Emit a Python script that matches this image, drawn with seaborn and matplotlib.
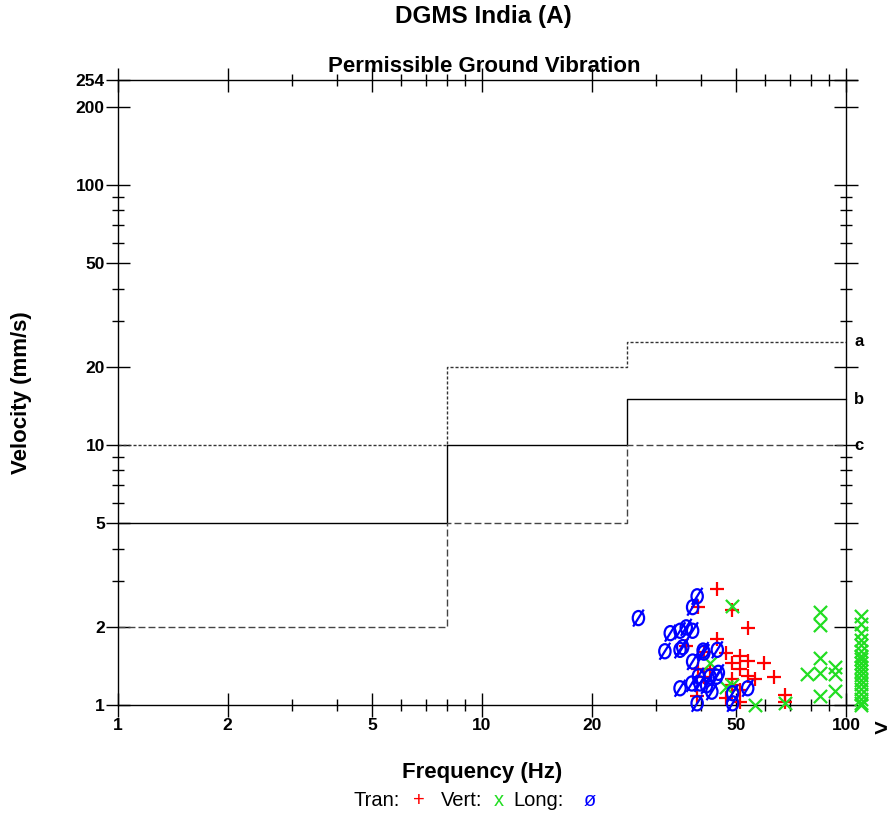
import numpy as np
import pandas as pd
import matplotlib
matplotlib.use("Agg")
import matplotlib.pyplot as plt
import matplotlib.ticker as mticker
from matplotlib.path import Path
import seaborn as sns

# ---------------- data ----------------
limit_freq = [1, 8, 8, 25, 25, 100]
limit_a = [10, 10, 20, 20, 25, 25]
limit_b = [5, 5, 10, 10, 15, 15]
limit_c = [2, 2, 5, 5, 10, 10]
limit_labels = ["a", "b", "c"]

tran_freq = [44.3, 39.3, 48.6, 53.7, 44.1, 36.4, 46.9, 51.0, 53.7, 59.5, 48.6, 51.0,
             53.7, 56.4, 63.4, 48.6, 42.3, 39.3, 40.6, 51.0, 46.9, 51.0, 68.0, 68.0,
             39.0, 48.6, 40.6]
tran_vel = [2.79, 2.38, 2.31, 1.98, 1.79, 1.69, 1.58, 1.54, 1.48, 1.45, 1.45, 1.37,
            1.29, 1.255, 1.285, 1.255, 1.38, 1.38, 1.285, 1.14, 1.06, 1.03, 1.09, 1.03,
            1.08, 1.19, 1.60]

vert_freq = [48.6, 42.3, 46.9, 48.6, 56.3, 68.0, 78.3, 84.8, 84.8, 84.8, 84.8, 84.8,
             93.3, 93.3, 93.3]
vert_vel = [2.40, 1.455, 1.176, 1.19, 1.00, 1.02, 1.316, 2.285, 2.03, 1.51, 1.324, 1.083,
            1.40, 1.316, 1.135]
vert_over_vel = [2.2, 2.05, 1.9, 1.78, 1.7, 1.62, 1.55, 1.5, 1.45, 1.4, 1.35, 1.3,
                 1.25, 1.2, 1.15, 1.1, 1.05, 1.02, 1.0]
over_freq_pos = 110.0

long_freq = [26.9, 39.0, 37.9, 32.9, 35.0, 36.4, 37.9, 31.8, 35.0, 35.6, 37.9, 40.7,
             44.3, 35.0, 37.7, 39.3, 39.7, 42.3, 44.1, 41.4, 42.8, 39.0, 48.8, 48.8,
             53.7, 40.5, 44.6]
long_vel = [2.16, 2.62, 2.38, 1.89, 1.93, 1.99, 1.93, 1.61, 1.63, 1.67, 1.47, 1.59,
            1.63, 1.16, 1.21, 1.29, 1.21, 1.285, 1.285, 1.19, 1.125, 1.015, 1.11, 1.015,
            1.16, 1.62, 1.33]

x_major = [1, 2, 5, 10, 20, 50, 100]
x_minor = [3, 4, 6, 7, 8, 9, 30, 40, 60, 70, 80, 90]
y_major = [1, 2, 5, 10, 20, 50, 100, 200, 254]
y_minor = [3, 4, 6, 7, 8, 9, 30, 40, 60, 70, 80, 90]

# ---------------- style ----------------
sns.set_style("white")
plt.rcParams["font.family"] = ["Liberation Sans", "DejaVu Sans"]
plt.rcParams["text.color"] = "black"
plt.rcParams["axes.labelcolor"] = "black"
plt.rcParams["xtick.color"] = "black"
plt.rcParams["ytick.color"] = "black"

W, H = 892, 813
fig = plt.figure(figsize=(W / 100, H / 100), dpi=100)
x_right = 107.0
ax_w = np.log10(x_right) * 364
ax = fig.add_axes([118 / W, 108 / H, ax_w / W, 625 / H])
ax.set_xscale("log")
ax.set_yscale("log")
ax.set_xlim(1, x_right)
ax.set_ylim(1, 254)

# limit lines
df_lim = pd.DataFrame({"f": limit_freq, "a": limit_a, "b": limit_b, "c": limit_c})
sns.lineplot(data=df_lim, x="f", y="a", sort=False, estimator=None, ax=ax,
             color="#333333", lw=1.0, linestyle=(0, (2.2, 1.4)))
sns.lineplot(data=df_lim, x="f", y="b", sort=False, estimator=None, ax=ax,
             color="black", lw=1.0, linestyle="-")
sns.lineplot(data=df_lim, x="f", y="c", sort=False, estimator=None, ax=ax,
             color="#444444", lw=1.0, linestyle=(0, (5, 2.2)))
for lab, yv in zip(limit_labels, [limit_a[-1], limit_b[-1], limit_c[-1]]):
    ax.annotate(lab, xy=(100, yv), xytext=(6, 0), textcoords="offset points",
                ha="left", va="center", fontsize=12, fontweight="bold")

# markers
slash = np.array([[-0.75, -1.2], [0.75, 1.2]])
circ = Path.unit_circle()
circ = Path(circ.vertices * np.array([0.8, 1.0]), circ.codes)
phi = Path.make_compound_path(circ, Path(slash, [Path.MOVETO, Path.LINETO]))

sns.scatterplot(x=tran_freq, y=tran_vel, marker="+", color="red", s=110,
                linewidth=1.6, ax=ax, zorder=5, clip_on=False)
sns.scatterplot(x=vert_freq + [over_freq_pos] * len(vert_over_vel),
                y=vert_vel + vert_over_vel, marker="x", color="#22dd22", s=90,
                linewidth=1.6, ax=ax, zorder=5, clip_on=False)
sns.scatterplot(x=long_freq, y=long_vel, marker=phi, facecolor="none",
                edgecolor="blue", s=150, linewidth=1.6, ax=ax, zorder=6, clip_on=False)

# axes / spines
ax.spines["right"].set_position(("data", 100))
for sp in ax.spines.values():
    sp.set_color("black")
    sp.set_linewidth(1.0)

ax.xaxis.set_major_locator(mticker.FixedLocator(x_major))
ax.xaxis.set_minor_locator(mticker.FixedLocator(x_minor))
ax.yaxis.set_major_locator(mticker.FixedLocator(y_major))
ax.yaxis.set_minor_locator(mticker.FixedLocator(y_minor))
ax.xaxis.set_major_formatter(mticker.FixedFormatter([str(v) for v in x_major]))
ax.yaxis.set_major_formatter(mticker.FixedFormatter([str(v) for v in y_major]))
ax.xaxis.set_minor_formatter(mticker.NullFormatter())
ax.yaxis.set_minor_formatter(mticker.NullFormatter())

ax.tick_params(which="major", direction="inout", length=17, width=1.0, color="black",
               top=True, right=True, bottom=True, left=True, labelsize=12.5, pad=1,
               labelcolor="black")
ax.tick_params(which="minor", direction="inout", length=8.5, width=1.0, color="black",
               top=True, right=True, bottom=True, left=True)
for lbl in ax.get_xticklabels() + ax.get_yticklabels():
    lbl.set_fontweight("bold")
ax.set_xlabel("")
ax.set_ylabel("")

# texts
fig.text(483 / W, 1 - 16 / H, "DGMS India (A)", ha="center", va="center",
         fontsize=17.5, fontweight="bold")
fig.text(484 / W, 1 - 66 / H, "Permissible Ground Vibration", ha="center",
         va="center", fontsize=16, fontweight="bold")
fig.text(482 / W, 1 - 772 / H, "Frequency (Hz)", ha="center", va="center",
         fontsize=16, fontweight="bold")
fig.text(22 / W, 1 - 393 / H, "Velocity (mm/s)", ha="center", va="center",
         fontsize=16, fontweight="bold", rotation=90)
fig.text(881 / W, 1 - 730 / H, ">", ha="center", va="center",
         fontsize=17, fontweight="bold", rotation=0)

legend_parts = [("Tran:", "black", 354), ("+", "red", 413), ("Vert:", "black", 441),
                ("x", "#22dd22", 494), ("Long:", "black", 513), ("ø", "blue", 584)]
for txt, col, px in legend_parts:
    fig.text(px / W, 1 - 800 / H, txt, ha="left", va="center", fontsize=14.5,
             color=col)

fig.savefig("out.png", dpi=100)
